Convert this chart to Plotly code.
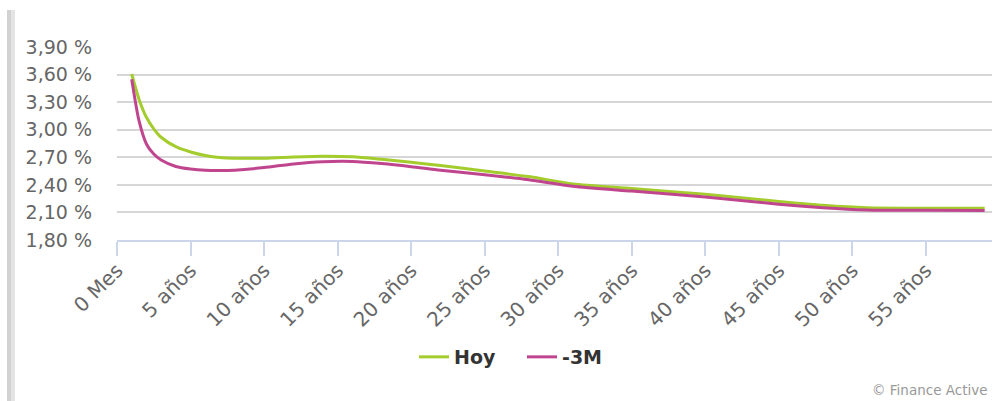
import plotly.graph_objects as go

# Data, x in years
years = [1, 1.5, 2, 2.5, 3, 4, 5, 6, 7, 8, 10, 12, 14, 16, 18, 20, 22, 25, 28, 31, 35, 40, 45, 48, 51, 55, 59]
hoy = [3.606, 3.33, 3.135, 3.01, 2.918, 2.815, 2.758, 2.72, 2.698, 2.69, 2.69, 2.703, 2.712, 2.706,
       2.678, 2.645, 2.61, 2.55, 2.49, 2.41, 2.36, 2.297, 2.22, 2.178, 2.151, 2.146, 2.145]
m3 = [3.55, 3.095, 2.845, 2.735, 2.67, 2.60, 2.572, 2.558, 2.555, 2.56, 2.588, 2.628, 2.652, 2.655,
      2.632, 2.598, 2.558, 2.51, 2.455, 2.385, 2.332, 2.268, 2.19, 2.152, 2.127, 2.123, 2.122]

x_tick_vals = [0, 5, 10, 15, 20, 25, 30, 35, 40, 45, 50, 55]
x_tick_text = ["0 Mes", "5 años", "10 años", "15 años", "20 años", "25 años", "30 años",
               "35 años", "40 años", "45 años", "50 años", "55 años"]
y_tick_vals = [1.80, 2.10, 2.40, 2.70, 3.00, 3.30, 3.60, 3.90]
y_tick_text = ["1,80 %", "2,10 %", "2,40 %", "2,70 %", "3,00 %", "3,30 %", "3,60 %", "3,90 %"]

series_names = ["Hoy", "-3M"]
series_colors = ["#a3cc2c", "#c0458f"]

W, H = 995, 401
L, R, T, B = 117, 3, 47, 161
pw = W - L - R
ph = H - T - B

fig = go.Figure()
for name, vals, col in zip(series_names, [hoy, m3], series_colors):
    fig.add_trace(go.Scatter(
        x=years, y=vals, name=name, mode="lines",
        line=dict(color=col, width=3, shape="spline", smoothing=0.7),
        hoverinfo="skip",
    ))

def px_x(p):
    return (p - L) / pw

def px_y(p):
    return (H - B - p) / ph

fig.update_layout(
    width=W, height=H,
    margin=dict(l=L, r=R, t=T, b=B),
    paper_bgcolor="white", plot_bgcolor="white",
    font=dict(family="DejaVu Sans", color="#666666", size=16),
    showlegend=True,
    legend=dict(
        orientation="h", x=px_x(522), xanchor="center", y=px_y(357), yanchor="middle",
        font=dict(family="DejaVu Sans", size=19, color="#333333", weight="bold"),
        itemwidth=30, traceorder="normal", bgcolor="rgba(0,0,0,0)",
        entrywidth=63,
    ),
    xaxis=dict(
        range=[0, 59.5], tickmode="array", tickvals=x_tick_vals, ticktext=x_tick_text,
        tickangle=-45, showgrid=False, zeroline=False,
        showline=True, linecolor="#ccd6eb", linewidth=1.5,
        ticks="outside", ticklen=14, tickwidth=1.5, tickcolor="#ccd6eb",
        ticklabelstandoff=-5,
        tickfont=dict(family="DejaVu Sans", size=20, color="#666666"),
    ),
    yaxis=dict(
        range=[1.80, 3.90], tickmode="array", tickvals=y_tick_vals, ticktext=y_tick_text,
        showgrid=True, gridcolor="#d6d6d6", gridwidth=1.5, zeroline=False,
        showline=False, ticks="", ticklabelstandoff=24,
        tickfont=dict(family="DejaVu Sans", size=19, color="#666666"),
    ),
    shapes=[
        dict(type="rect", xref="paper", yref="paper",
             x0=px_x(7), x1=px_x(11), y0=px_y(401), y1=px_y(10),
             fillcolor="#d2d2d2", line=dict(width=0), layer="below"),
        dict(type="rect", xref="paper", yref="paper",
             x0=px_x(11), x1=px_x(15), y0=px_y(401), y1=px_y(10),
             fillcolor="#e4e4e4", line=dict(width=0), layer="below"),
    ],
    annotations=[
        dict(text="© Finance Active", xref="paper", yref="paper",
             x=px_x(990), y=px_y(390), xanchor="right", yanchor="middle",
             showarrow=False, font=dict(family="DejaVu Sans", size=13.5, color="#999999")),
    ],
)

fig.write_html("out.html", config={"displayModeBar": False},
               post_script="document.body.style.margin='0';document.body.style.padding='0';")
